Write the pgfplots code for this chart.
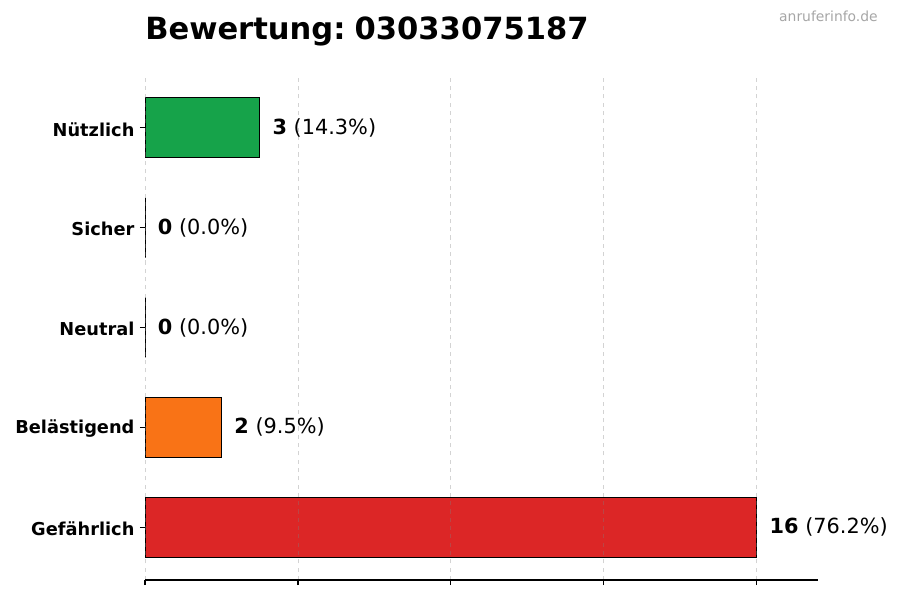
\documentclass[border=0pt]{standalone}
\usepackage{pgfplots}
\pgfplotsset{compat=1.18}
\usepackage{fontspec}
\setmainfont{DejaVu Sans}
\definecolor{cgreen}{HTML}{16A34A}
\definecolor{corange}{HTML}{F97316}
\definecolor{cred}{HTML}{DC2626}
\begin{document}
\begin{tikzpicture}
\useasboundingbox (0,0) rectangle (9in,6in);
\begin{axis}[
  at={(1.45in,0.2in)}, anchor=south west,
  scale only axis, width=6.73in, height=5.05in,
  xmin=0, xmax=17.6, ymin=-0.53, ymax=4.53,
  xbar, bar width=0.6, bar shift=0pt,
  separate axis lines,
  axis x line*=bottom, axis y line*=left,
  y axis line style={draw=none},
  x axis line style={line width=0.8bp},
  xtick={0,4,8,12,16}, xticklabels={},
  ytick={0,1,2,3,4},
  yticklabels={Gefährlich,Belästigend,Neutral,Sicher,Nützlich},
  yticklabel style={font=\bfseries\fontsize{12.8bp}{15bp}\selectfont, xshift=-0.5bp, yshift=-1bp},
  tick align=outside, major tick length=3.6bp,
  tick style={black, line width=0.8bp},
  xmajorgrids,
  grid style={dashed, gray, opacity=0.35, line width=0.6bp},
  axis on top,
  point meta=explicit symbolic,
  nodes near coords,
  nodes near coords style={anchor=west, xshift=5.6bp, font=\fontsize{15bp}{17bp}\selectfont, black},
  every axis plot/.append style={draw=black, line width=0.75bp},
]
\addplot[fill=cred] coordinates {(16,0) [\textbf{16} (76.2\%)]};
\addplot[fill=corange] coordinates {(2,1) [\textbf{2} (9.5\%)]};
\addplot[fill=gray] coordinates {(0,2) [\textbf{0} (0.0\%)]};
\addplot[fill=gray] coordinates {(0,3) [\textbf{0} (0.0\%)]};
\addplot[fill=cgreen] coordinates {(3,4) [\textbf{3} (14.3\%)]};
\end{axis}
\node[anchor=base west, inner sep=0, font=\bfseries\fontsize{22bp}{26bp}\selectfont] at (1.45in,5.6in) {Bewertung:\kern0.3em03033075187};
\node[anchor=base east, inner sep=0, text=black!35, font=\fontsize{10bp}{12bp}\selectfont] at (8.78in,5.78in) {anruferinfo.de};
\end{tikzpicture}
\end{document}
